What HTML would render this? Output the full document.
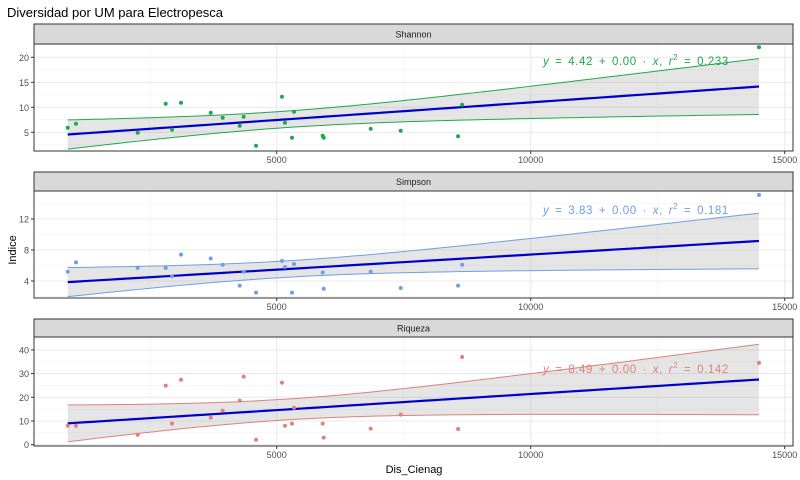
<!DOCTYPE html>
<html><head><meta charset="utf-8"><style>
body{margin:0;background:#fff;}
svg{display:block;font-family:"Liberation Sans",sans-serif;}
</style></head><body>
<svg id="chart" width="800" height="480" viewBox="0 0 800 480">
<text x="7" y="17" font-size="13" fill="#000">Diversidad por UM para Electropesca</text>
<text transform="translate(16,250) rotate(-90)" font-size="11" text-anchor="middle">Indice</text>
<text x="414" y="473" font-size="11" text-anchor="middle">Dis_Cienag</text>
<g id="panels"></g>
</svg>
<script>
const xValues=[886,1049,2264,2815,2939,3116,3701,3937,4272,4350,4593,5104,5163,5301,5341,5905,5925,6850,7441,8570,8650,14494];
const shannonValues=[5.9,6.7,4.9,10.7,5.5,10.9,8.9,7.9,6.3,8.1,2.3,12.1,6.9,3.9,9.1,4.3,3.9,5.7,5.3,4.2,10.5,22];
const simpsonValues=[5.2,6.4,5.7,5.7,4.6,7.4,6.9,6.1,3.4,5.2,2.5,6.6,5.8,2.5,6.2,5.1,3.0,5.2,3.1,3.4,6.1,15.1];
const riquezaValues=[8.0,8.0,4.2,24.9,8.9,27.4,11.4,14.3,18.6,28.7,2.1,26.2,8.0,8.9,15.6,8.9,3.0,6.8,12.7,6.6,37,34.5];
const panelNames=["Shannon","Simpson","Riqueza"];
const xTicks=[5000,10000,15000];
const yTicksShannon=[5,10,15,20];
const yTicksSimpson=[4,8,12];
const yTicksRiqueza=[0,10,20,30,40];
const eqLabels=["4.42","3.83","8.49"];
const r2Labels=["0.233","0.181","0.142"];

const NS="http://www.w3.org/2000/svg";
const root=document.getElementById('panels');
function el(tag,attrs,parent){const e=document.createElementNS(NS,tag);for(const k in attrs)e.setAttribute(k,attrs[k]);(parent||root).appendChild(e);return e;}
const X0=34,X1=793;
function xs(v){return 22.7+v*0.0508;}
const panels=[
 {vals:shannonValues,ticks:yTicksShannon,col:"#1fa84a",top:24,sb:44,bot:151,y0:157.3,k:5,minor:[2.5,7.5,12.5,17.5,22.5]},
 {vals:simpsonValues,ticks:yTicksSimpson,col:"#6f9fe8",top:172,sb:191,bot:298,y0:312,k:7.75,minor:[2,6,10,14]},
 {vals:riquezaValues,ticks:yTicksRiqueza,col:"#e0817a",top:319,sb:337,bot:446,y0:444.7,k:2.37,minor:[5,15,25,35,45]}
];
panels.forEach((p,i)=>{
 const g=el('g',{});
 
 
 const ys=v=>p.y0-v*p.k;
 const strip=el('rect',{x:X0,y:p.top,width:X1-X0,height:p.sb-p.top,fill:'#d9d9d9',stroke:'#333','stroke-width':1},g);
 
 
 const st=el('text',{x:(X0+X1)/2,y:(p.top+p.sb)/2+3.5,'font-size':9,'text-anchor':'middle',fill:'#1a1a1a'},g);st.textContent=panelNames[i];
 
 
 el('rect',{x:X0,y:p.sb,width:X1-X0,height:p.bot-p.sb,fill:'#fff'},g);
 p.minor.forEach(v=>{const y=ys(v);if(y>p.sb&&y<p.bot)el('line',{x1:X0,x2:X1,y1:y,y2:y,stroke:'#f2f2f2','stroke-width':0.6},g);});
 [2500,7500,12500].forEach(v=>el('line',{x1:xs(v),x2:xs(v),y1:p.sb,y2:p.bot,stroke:'#f2f2f2','stroke-width':0.6},g));
 p.ticks.forEach(v=>{const y=ys(v);el('line',{x1:X0,x2:X1,y1:y,y2:y,stroke:'#ebebeb','stroke-width':1.1},g);
  el('line',{x1:X0-3,x2:X0,y1:y,y2:y,stroke:'#333'},g);
  const t=el('text',{x:X0-5,y:y+3.5,'font-size':9,'text-anchor':'end',fill:'#4d4d4d'},g);t.textContent=v;
  
  });
 xTicks.forEach(v=>{el('line',{x1:xs(v),x2:xs(v),y1:p.sb,y2:p.bot,stroke:'#ebebeb','stroke-width':1.1},g);
  el('line',{x1:xs(v),x2:xs(v),y1:p.bot,y2:p.bot+3,stroke:'#333'},g);
  const t=el('text',{x:xs(v),y:p.bot+12,'font-size':9,'text-anchor':'middle',fill:'#4d4d4d'},g);t.textContent=v;
  
  });
 const n=xValues.length;const mx=xValues.reduce((a,b)=>a+b)/n;const my=p.vals.reduce((a,b)=>a+b)/n;
 let sxx=0,sxy=0;xValues.forEach((x,j)=>{sxx+=(x-mx)**2;sxy+=(x-mx)*(p.vals[j]-my);});
 const b=sxy/sxx,a=my-b*mx;let sse=0;xValues.forEach((x,j)=>{sse+=(p.vals[j]-a-b*x)**2;});
 const s=Math.sqrt(sse/(n-2)),t=2.086;
 const lo=Math.min(...xValues),hi=Math.max(...xValues);
 const up=[],dn=[],mid=[];
 for(let q=0;q<=80;q++){const x=lo+(hi-lo)*q/80;const f=a+b*x;const se=s*Math.sqrt(1/n+(x-mx)**2/sxx);
  up.push(xs(x)+','+ys(f+t*se));dn.push(xs(x)+','+ys(f-t*se));mid.push(xs(x)+','+ys(f));}
 const band=el('polygon',{points:up.concat(dn.slice().reverse()).join(' '),fill:'#999','fill-opacity':0.25},g);
 
 
 el('polyline',{points:up.join(' '),fill:'none',stroke:p.col,'stroke-width':1},g);
 el('polyline',{points:dn.join(' '),fill:'none',stroke:p.col,'stroke-width':1},g);
 const fl=el('polyline',{points:mid.join(' '),fill:'none',stroke:'#0000cc','stroke-width':2.2},g);
 
 
 xValues.forEach((x,j)=>{const c=el('circle',{cx:xs(x),cy:ys(p.vals[j]),r:2,fill:p.col},g);
  
  });
 const ly=[65,214,373][i];
 const eq=el('text',{x:543,y:ly,'font-size':11.5,fill:p.col,'word-spacing':'2px','letter-spacing':'0.6px'},g);
 eq.innerHTML='<tspan font-style="italic">y</tspan> = '+eqLabels[i]+' + 0.00 · <tspan font-style="italic">x</tspan>,   <tspan font-style="italic">r</tspan><tspan dy="-5" font-size="8">2</tspan><tspan dy="5"> = '+r2Labels[i]+'</tspan>';
 
 
 el('rect',{x:X0,y:p.sb,width:X1-X0,height:p.bot-p.sb,fill:'none',stroke:'#333','stroke-width':1},g);
});
</script>
</body></html>
